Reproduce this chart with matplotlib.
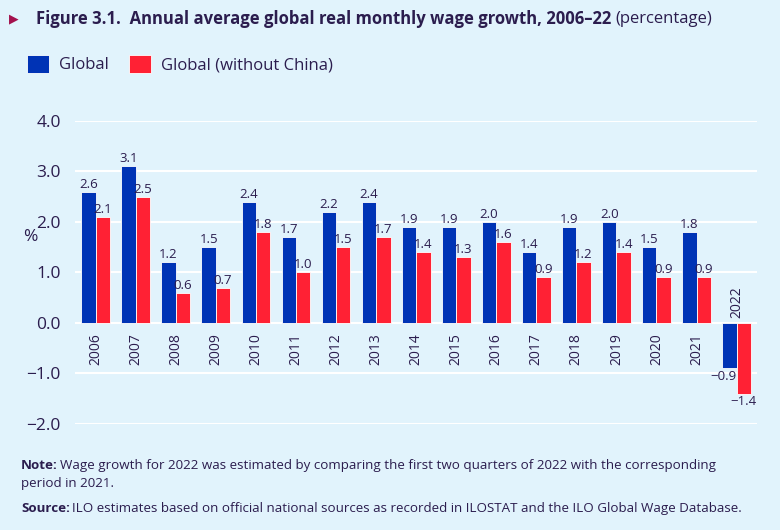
import numpy as np
import matplotlib.pyplot as plt

# data
years = ['2006', '2007', '2008', '2009', '2010', '2011', '2012', '2013', '2014',
         '2015', '2016', '2017', '2018', '2019', '2020', '2021', '2022']
global_growth = [2.6, 3.1, 1.2, 1.5, 2.4, 1.7, 2.2, 2.4, 1.9, 1.9, 2.0, 1.4, 1.9, 2.0, 1.5, 1.8, -0.9]
no_china_growth = [2.1, 2.5, 0.6, 0.7, 1.8, 1.0, 1.5, 1.7, 1.4, 1.3, 1.6, 0.9, 1.2, 1.4, 0.9, 0.9, -1.4]
yticks = [-2.0, -1.0, 0.0, 1.0, 2.0, 3.0, 4.0]

bg = '#e1f3fc'
txt = '#2b1d4e'
blue = '#0033b5'
red = '#ff2134'

plt.rcParams['font.family'] = ['Open Sans', 'DejaVu Sans']

fig = plt.figure(figsize=(7.8, 5.3), dpi=100, facecolor=bg)
ax = fig.add_axes([0.096, 0.2, 0.874, 0.572])
ax.set_facecolor(bg)

x = np.arange(len(years))
w = 0.36
b1 = ax.bar(x - w/2, global_growth, w, color=blue, edgecolor='white', linewidth=0.6, zorder=3, label='Global')
b2 = ax.bar(x + w/2, no_china_growth, w, color=red, edgecolor='white', linewidth=0.6, zorder=3,
            label='Global (without China)')

## value labels
for k, (bars, vals) in enumerate([(b1, global_growth), (b2, no_china_growth)]):
    for r, v in zip(bars, vals):
        cx = r.get_x() + r.get_width()/2
        s = f'{v:.1f}'.replace('-', '\u2212')
        if v >= 0:
            ax.text(cx, v + 0.02, s, ha='center', va='bottom', fontsize=9.5, color=txt, zorder=4)
        elif k == 0:
            # keep the blue one clear of the red bar next to it
            ax.text(r.get_x() + r.get_width(), v - 0.03, s, ha='right', va='top', fontsize=9.5,
                    color=txt, zorder=4)
        else:
            ax.text(cx, v - 0.03, s, ha='center', va='top', fontsize=9.5, color=txt, zorder=4)

## year labels on the zero line
for i, yr in enumerate(years):
    if global_growth[i] >= 0:
        ax.text(i, -0.2, yr, rotation=90, ha='center', va='top', fontsize=10, color=txt)
    else:
        ax.text(i, 0.1, yr, rotation=90, ha='center', va='bottom', fontsize=10, color=txt)

## axes config
ax.set_xlim(-0.52, 16.5)
ax.set_ylim(-2.0, 4.0)
ax.set_yticks(yticks)
ax.set_yticklabels([f'{t:.1f}'.replace('-', '\u2212') for t in yticks], fontsize=12.5, color=txt)
ax.set_xticks([])
ax.tick_params(axis='y', length=0, pad=10)
ax.grid(axis='y', color='white', linewidth=1.5, zorder=0)
for s in ax.spines.values():
    s.set_visible(False)
ax.set_ylabel('%', rotation=0, fontsize=12.5, color=txt)
ax.yaxis.set_label_coords(-0.065, 0.59)

renderer = fig.canvas.get_renderer()

def two_part(xp, yp, bold, rest, size, gap=4):
    kw = dict(fontsize=size, color=txt, va='center')
    t = fig.text(xp, yp, bold, fontweight='bold', **kw)
    bb = t.get_window_extent(renderer)
    fig.text((bb.x1 + gap) / fig.bbox.width, yp, rest, **kw)

## title
fig.text(0.012, 0.965, '\u25B6', fontsize=9, color='#a3114d', va='center', family=['DejaVu Sans'])
two_part(0.046, 0.965, 'Figure 3.1.  Annual average global real monthly wage growth, 2006\u201322',
         '(percentage)', 12)

## legend
fig.legend(handles=[b1, b2], loc='upper left', bbox_to_anchor=(0.016, 0.925), ncol=2, frameon=False,
           fontsize=12, labelcolor=txt, handlelength=1.3, handleheight=1.3, columnspacing=1.2,
           handletextpad=0.6)

## notes
two_part(0.027, 0.122, 'Note:',
         'Wage growth for 2022 was estimated by comparing the first two quarters of 2022 with the corresponding',
         9.6, gap=2)
fig.text(0.027, 0.087, 'period in 2021.', fontsize=9.6, color=txt, va='center')
two_part(0.027, 0.041, 'Source:',
         'ILO estimates based on official national sources as recorded in ILOSTAT and the ILO Global Wage Database.',
         9.6, gap=2)

fig.savefig('out.png', dpi=100, facecolor=bg)
